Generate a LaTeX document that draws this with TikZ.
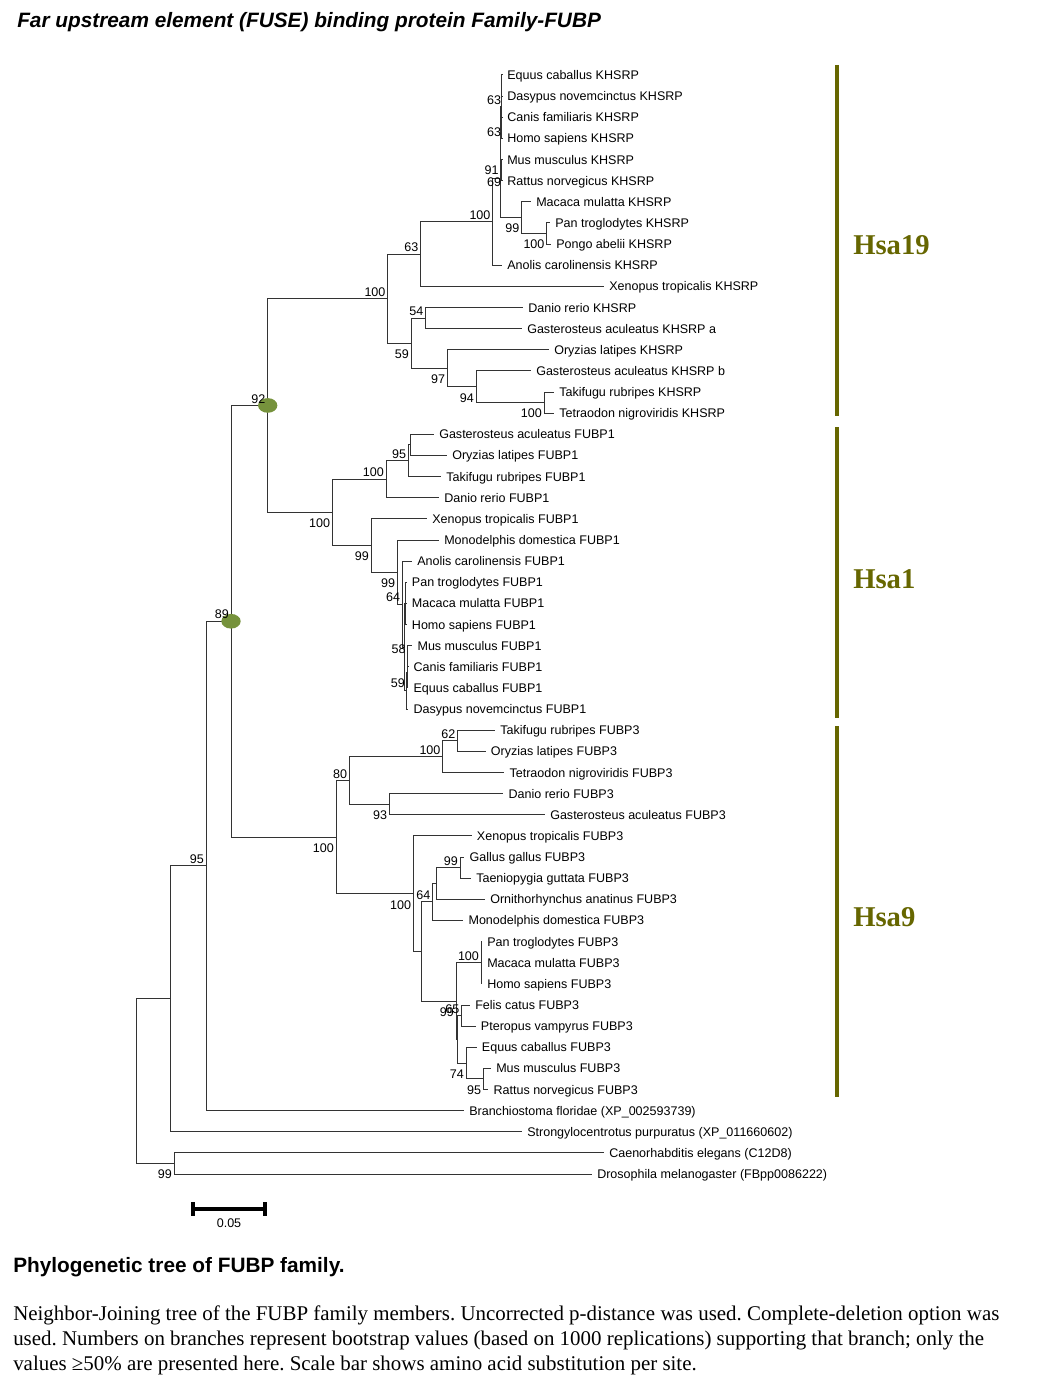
\documentclass[tikz,border=0pt]{standalone}
\usepackage{fontspec}
\setmainfont{Liberation Serif}
\setsansfont{Liberation Sans}
\usepackage{xcolor}
\usepackage{tikz}
\usetikzlibrary{shapes.geometric}

\definecolor{hsaolive}{RGB}{102,102,0}
\definecolor{nodegreen}{RGB}{118,146,60}

\tikzset{
  branch/.style={line width=0.75pt, black!80},
  leaf/.style={anchor=west, inner sep=0pt, inner xsep=3.75pt, text height=6.8pt, text depth=0pt,
    font=\sffamily\fontsize{9.4}{10}\selectfont},
  bs/.style={inner sep=1.5pt, text height=6.8pt, text depth=0pt, font=\sffamily\fontsize{9.4}{10}\selectfont},
  bsa/.style={bs, anchor=south east},
  bsb/.style={bs, anchor=north east, yshift=-3pt},
  hub/.style={ellipse, fill=nodegreen, inner sep=0pt, minimum width=14.5pt, minimum height=11pt},
  hsabar/.style={line width=3pt, hsaolive},
  hsa/.style={anchor=base west, inner sep=0pt, text=hsaolive, font=\fontsize{21.5}{24}\selectfont\bfseries},
  scalebar/.style={line width=3pt, black},
  capline/.style={anchor=base west, inner sep=0pt, font=\fontsize{15.7}{18}\selectfont\frenchspacing}
}

\begin{document}
\begin{tikzpicture}[x=0.75pt,y=-0.75pt]
\useasboundingbox (0,0) rectangle (1051,1388);

% title
\node[anchor=base west, inner sep=0pt, font=\sffamily\bfseries\itshape\fontsize{15.6}{19}\selectfont] (title) at (17,28)
  {Far upstream element (FUSE) binding protein Family-FUBP};

% leaves, KHSRP
\node[leaf] (khEqu) at (502,75.0) {Equus caballus KHSRP};
\node[leaf] (khDas) at (502,96.1) {Dasypus novemcinctus KHSRP};
\node[leaf] (khCan) at (502,117.3) {Canis familiaris KHSRP};
\node[leaf] (khHom) at (502,138.4) {Homo sapiens KHSRP};
\node[leaf] (khMus) at (502,159.5) {Mus musculus KHSRP};
\node[leaf] (khRat) at (502,180.7) {Rattus norvegicus KHSRP};
\node[leaf] (khMac) at (531,201.8) {Macaca mulatta KHSRP};
\node[leaf] (khPan) at (550,222.9) {Pan troglodytes KHSRP};
\node[leaf] (khPon) at (551,244.1) {Pongo abelii KHSRP};
\node[leaf] (khAno) at (502,265.2) {Anolis carolinensis KHSRP};
\node[leaf] (khXen) at (604,286.4) {Xenopus tropicalis KHSRP};
\node[leaf] (khDan) at (523,307.5) {Danio rerio KHSRP};
\node[leaf] (khGaa) at (522,328.6) {Gasterosteus aculeatus KHSRP a};
\node[leaf] (khOry) at (549,349.8) {Oryzias latipes KHSRP};
\node[leaf] (khGab) at (531,370.9) {Gasterosteus aculeatus KHSRP b};
\node[leaf] (khTak) at (554,392.0) {Takifugu rubripes KHSRP};
\node[leaf] (khTet) at (554,413.2) {Tetraodon nigroviridis KHSRP};

% leaves, FUBP1
\node[leaf] (f1Gas) at (434,434.3) {Gasterosteus aculeatus FUBP1};
\node[leaf] (f1Ory) at (447,455.4) {Oryzias latipes FUBP1};
\node[leaf] (f1Tak) at (441,476.6) {Takifugu rubripes FUBP1};
\node[leaf] (f1Dan) at (439,497.7) {Danio rerio FUBP1};
\node[leaf] (f1Xen) at (427,518.9) {Xenopus tropicalis FUBP1};
\node[leaf] (f1Mon) at (439,540.0) {Monodelphis domestica FUBP1};
\node[leaf] (f1Ano) at (412,561.1) {Anolis carolinensis FUBP1};
\node[leaf] (f1Pan) at (406.7,582.3) {Pan troglodytes FUBP1};
\node[leaf] (f1Mac) at (406.7,603.4) {Macaca mulatta FUBP1};
\node[leaf] (f1Hom) at (406.7,624.5) {Homo sapiens FUBP1};
\node[leaf] (f1Mus) at (412.3,645.7) {Mus musculus FUBP1};
\node[leaf] (f1Can) at (408.3,666.8) {Canis familiaris FUBP1};
\node[leaf] (f1Equ) at (408.3,687.9) {Equus caballus FUBP1};
\node[leaf] (f1Das) at (408.3,709.1) {Dasypus novemcinctus FUBP1};

% leaves, FUBP3
\node[leaf] (f3Tak) at (495,730.2) {Takifugu rubripes FUBP3};
\node[leaf] (f3Ory) at (485.7,751.3) {Oryzias latipes FUBP3};
\node[leaf] (f3Tet) at (504.3,772.5) {Tetraodon nigroviridis FUBP3};
\node[leaf] (f3Dan) at (503.3,793.6) {Danio rerio FUBP3};
\node[leaf] (f3Gas) at (545,814.8) {Gasterosteus aculeatus FUBP3};
\node[leaf] (f3Xen) at (471.7,835.9) {Xenopus tropicalis FUBP3};
\node[leaf] (f3Gal) at (464.3,857.0) {Gallus gallus FUBP3};
\node[leaf] (f3Tae) at (471,878.2) {Taeniopygia guttata FUBP3};
\node[leaf] (f3Orn) at (485,899.3) {Ornithorhynchus anatinus FUBP3};
\node[leaf] (f3Mon) at (463.3,920.4) {Monodelphis domestica FUBP3};
\node[leaf] (f3Pan) at (482,941.6) {Pan troglodytes FUBP3};
\node[leaf] (f3Mac) at (482,962.7) {Macaca mulatta FUBP3};
\node[leaf] (f3Hom) at (482,983.8) {Homo sapiens FUBP3};
\node[leaf] (f3Fel) at (470,1005.0) {Felis catus FUBP3};
\node[leaf] (f3Pte) at (475.7,1026.1) {Pteropus vampyrus FUBP3};
\node[leaf] (f3Equ) at (476.7,1047.2) {Equus caballus FUBP3};
\node[leaf] (f3Mus) at (491,1068.4) {Mus musculus FUBP3};
\node[leaf] (f3Rat) at (488.3,1089.5) {Rattus norvegicus FUBP3};

% outgroups
\node[leaf] (oBra) at (464,1110.6) {Branchiostoma floridae (XP\_002593739)};
\node[leaf] (oStr) at (522,1131.8) {Strongylocentrotus purpuratus (XP\_011660602)};
\node[leaf] (oCae) at (604,1152.9) {Caenorhabditis elegans (C12D8)};
\node[leaf] (oDro) at (592,1174.0) {Drosophila melanogaster (FBpp0086222)};

% inner nodes
\coordinate (kED) at (501.5,85.55);
\coordinate (kCH) at (501.5,127.85);
\coordinate (kEC) at (501,106.7);
\coordinate (kMR) at (501.5,170.1);
\coordinate (kMam) at (500.5,138.4);
\coordinate (kPP) at (546.7,233.5);
\coordinate (k99k) at (521.7,217.65);
\coordinate (k69) at (500,178.0);
\coordinate (k100k) at (492.7,221.6);
\coordinate (k63) at (420.7,254.0);
\coordinate (k54) at (425.7,318.05);
\coordinate (kTT) at (544,402.6);
\coordinate (k94) at (476,386.75);
\coordinate (k97) at (447.3,368.3);
\coordinate (k59k) at (411,343.2);
\coordinate (k100kr) at (387.7,298.6);
\coordinate (k92) at (267.7,405.45);

\coordinate (kGO) at (410,444.85);
\coordinate (k95f) at (408.3,460.7);
\coordinate (kF1) at (386,479.2);
\coordinate (kPMH) at (405.8,603.4);
\coordinate (k58) at (407.8,656.25);
\coordinate (k59f) at (407.2,672.1);
\coordinate (kM) at (406.6,690.6);
\coordinate (kX) at (404.5,647.0);
\coordinate (k64f) at (402.3,604.05);
\coordinate (k99b) at (397.3,572.0);
\coordinate (k99a) at (371,545.45);
\coordinate (k100f) at (332.3,512.3);

\coordinate (k62) at (457.7,740.75);
\coordinate (k100d) at (442.7,756.6);
\coordinate (k93) at (389.3,804.2);
\coordinate (k80) at (349.3,780.4);
\coordinate (kBirds) at (460,867.6);
\coordinate (kBP) at (436.7,883.45);
\coordinate (k64t) at (432.5,901.9);
\coordinate (kPrim3) at (481.2,962.7);
\coordinate (kFP) at (461.7,1015.55);
\coordinate (kMR3) at (483.3,1078.95);
\coordinate (kEMR) at (466,1063.1);
\coordinate (kLaur) at (457.5,1039.3);
\coordinate (kEuth) at (456,1001.0);
\coordinate (kAmn) at (421.7,951.5);
\coordinate (kTetra3) at (413.3,893.7);
\coordinate (k100t) at (336,837.05);
\coordinate (k89) at (231,621.25);
\coordinate (k95r) at (206,865.9);
\coordinate (kO1) at (170.3,998.85);
\coordinate (k99r) at (174.2,1163.45);
\coordinate (kRoot) at (136,1081.15);

% branches, KHSRP
\draw[branch] (kED) |- (khEqu.west) (kED) |- (khDas.west);
\draw[branch] (kCH) |- (khCan.west) (kCH) |- (khHom.west);
\draw[branch] (kEC) |- (kED) (kEC) |- (kCH);
\draw[branch] (kMR) |- (khMus.west) (kMR) |- (khRat.west);
\draw[branch] (kMam) |- (kEC) (kMam) |- (kMR);
\draw[branch] (kPP) |- (khPan.west) (kPP) |- (khPon.west);
\draw[branch] (k99k) |- (khMac.west) (k99k) |- (kPP);
\draw[branch] (k69) |- (kMam) (k69) |- (k99k);
\draw[branch] (k100k) |- (k69) (k100k) |- (khAno.west);
\draw[branch] (k63) |- (k100k) (k63) |- (khXen.west);
\draw[branch] (k54) |- (khDan.west) (k54) |- (khGaa.west);
\draw[branch] (kTT) |- (khTak.west) (kTT) |- (khTet.west);
\draw[branch] (k94) |- (khGab.west) (k94) |- (kTT);
\draw[branch] (k97) |- (khOry.west) (k97) |- (k94);
\draw[branch] (k59k) |- (k54) (k59k) |- (k97);
\draw[branch] (k100kr) |- (k63) (k100kr) |- (k59k);
\draw[branch] (k92) |- (k100kr) (k92) |- (k100f);

% branches, FUBP1
\draw[branch] (kGO) |- (f1Gas.west) (kGO) |- (f1Ory.west);
\draw[branch] (k95f) |- (kGO) (k95f) |- (f1Tak.west);
\draw[branch] (kF1) |- (k95f) (kF1) |- (f1Dan.west);
\draw[branch] (kPMH) |- (f1Pan.west) (kPMH) -- (f1Mac.west) (kPMH) |- (f1Hom.west);
\draw[branch] (k58) |- (f1Mus.west) (k58) |- (f1Can.west);
\draw[branch] (k59f) |- (k58) (k59f) |- (f1Equ.west);
\draw[branch] (kM) |- (k59f) (kM) |- (f1Das.west);
\draw[branch] (kX) |- (kPMH) (kX) |- (kM);
\draw[branch] (k64f) |- (f1Ano.west) (k64f) |- (kX);
\draw[branch] (k99b) |- (f1Mon.west) (k99b) |- (k64f);
\draw[branch] (k99a) |- (f1Xen.west) (k99a) |- (k99b);
\draw[branch] (k100f) |- (kF1) (k100f) |- (k99a);

% branches, FUBP3
\draw[branch] (k62) |- (f3Tak.west) (k62) |- (f3Ory.west);
\draw[branch] (k100d) |- (k62) (k100d) |- (f3Tet.west);
\draw[branch] (k93) |- (f3Dan.west) (k93) |- (f3Gas.west);
\draw[branch] (k80) |- (k100d) (k80) |- (k93);
\draw[branch] (kBirds) |- (f3Gal.west) (kBirds) |- (f3Tae.west);
\draw[branch] (kBP) |- (kBirds) (kBP) |- (f3Orn.west);
\draw[branch] (k64t) |- (kBP) (k64t) |- (f3Mon.west);
\draw[branch] (kPrim3) |- (f3Pan.west) (kPrim3) -- (f3Mac.west) (kPrim3) |- (f3Hom.west);
\draw[branch] (kFP) |- (f3Fel.west) (kFP) |- (f3Pte.west);
\draw[branch] (kMR3) |- (f3Mus.west) (kMR3) |- (f3Rat.west);
\draw[branch] (kEMR) |- (f3Equ.west) (kEMR) |- (kMR3);
\draw[branch] (kLaur) |- (kFP) (kLaur) |- (kEMR);
\draw[branch] (kEuth) |- (kPrim3) (kEuth) |- (kLaur);
\draw[branch] (kAmn) |- (k64t) (kAmn) |- (kEuth);
\draw[branch] (kTetra3) |- (f3Xen.west) (kTetra3) |- (kAmn);
\draw[branch] (k100t) |- (k80) (k100t) |- (kTetra3);

% deep branches
\draw[branch] (k89) |- (k92) (k89) |- (k100t);
\draw[branch] (k95r) |- (k89) (k95r) |- (oBra.west);
\draw[branch] (kO1) |- (k95r) (kO1) |- (oStr.west);
\draw[branch] (k99r) |- (oCae.west) (k99r) |- (oDro.west);
\draw[branch] (kRoot) |- (kO1) (kRoot) |- (k99r);

\node[hub] (h92) at (k92) {};
\node[hub] (h89) at (k89) {};

% bootstrap values
\node[bs] (b63a) at (494,100) {63};
\node[bs] (b63b) at (494,131.7) {63};
\node[bs] (b91) at (491.7,170) {91};
\node[bs] (b69) at (494,181.7) {69};
\node[bsa] (b100k) at (k100k) {100};
\node[bsb] (b99k) at (k99k) {99};
\node[bsb] (b100p) at (kPP) {100};
\node[bsa] (b63c) at (k63) {63};
\node[bsa] (b100kr) at (k100kr) {100};
\node[bsa] (b54) at (k54) {54};
\node[bsb] (b59k) at (k59k) {59};
\node[bsb] (b97) at (k97) {97};
\node[bsb] (b94) at (k94) {94};
\node[bsb] (b100tt) at (kTT) {100};
\node[bsa] (b92) at (k92) {92};

\node[bsa] (b100f1) at (kF1) {100};
\node[bsa] (b95f) at (k95f) {95};
\node[bsb] (b100f) at (k100f) {100};
\node[bsb] (b99a) at (k99a) {99};
\node[bsb] (b99b) at (k99b) {99};
\node[bsa] (b64f) at (k64f) {64};
\node[bsa] (b58) at (k58) {58};
\node[bsb] (b59f) at (k59f) {59};
\node[bsa] (b89) at (k89) {89};

\node[bsa] (b62) at (k62) {62};
\node[bsa] (b100d) at (k100d) {100};
\node[bsb] (b93) at (k93) {93};
\node[bsa] (b80) at (k80) {80};
\node[bsb] (b100t) at (k100t) {100};
\node[bsb] (b100x) at (kTetra3) {100};
\node[bsa] (b64t) at (k64t) {64};
\node[bsa] (b99g) at (kBirds) {99};
\node[bsa] (b100m) at (kPrim3) {100};
\node[bsb] (b99e) at (kEuth) {99};
\node[bsa] (b65) at (kFP) {65};
\node[bsb] (b74) at (kEMR) {74};
\node[bsb] (b95m) at (kMR3) {95};
\node[bsa] (b95r) at (k95r) {95};
\node[bsb] (b99r) at (k99r) {99};

% chromosome bars
\draw[hsabar] (836.7,65) -- (836.7,416);
\draw[hsabar] (836.7,427) -- (836.7,718);
\draw[hsabar] (836.7,726) -- (836.7,1097);
\node[hsa] (hsa19) at (853,254.5) {Hsa19};
\node[hsa] (hsa1) at (853,588) {Hsa1};
\node[hsa] (hsa9) at (853,926.5) {Hsa9};

% scale bar
\draw[scalebar] (193,1202) -- (193,1216) (193,1209) -- (265,1209) (265,1202) -- (265,1216);
\node[bs] (sclbl) at (229,1223) {0.05};

% caption
\node[anchor=base west, inner sep=0pt, font=\sffamily\bfseries\fontsize{15.6}{18}\selectfont] (caphead) at (13,1272)
  {Phylogenetic tree of FUBP family.};
\node[capline] (cap1) at (13,1320) {Neighbor-Joining tree of the FUBP family members. Uncorrected p-distance was used. Complete-deletion option was};
\node[capline] (cap2) at (13,1345) {used. Numbers on branches represent bootstrap values (based on 1000 replications) supporting that branch; only the};
\node[capline] (cap3) at (13,1370) {values ≥50\% are presented here. Scale bar shows amino acid substitution per site.};
\end{tikzpicture}
\end{document}
